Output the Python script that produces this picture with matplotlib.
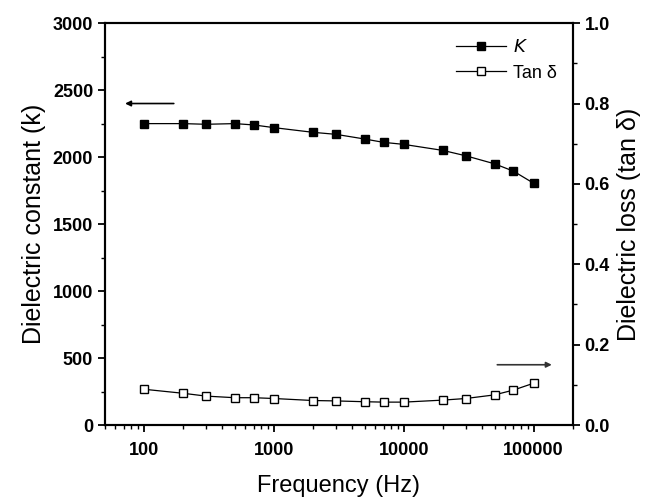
import numpy as np
import matplotlib
matplotlib.use('Agg')
import matplotlib.pyplot as plt
from matplotlib.ticker import FixedLocator, LogLocator, NullFormatter, FuncFormatter

plt.rcParams['font.family'] = ['Liberation Sans', 'DejaVu Sans']

freq = [100, 200, 300, 500, 700, 1000, 2000, 3000, 5000, 7000,
        10000, 20000, 30000, 50000, 70000, 100000]
k_vals = [2250, 2250, 2245, 2250, 2240, 2220, 2185, 2170, 2135, 2110,
          2095, 2050, 2010, 1950, 1895, 1805]
tan_vals = [0.089, 0.079, 0.072, 0.068, 0.068, 0.066, 0.061, 0.060, 0.058, 0.057,
            0.057, 0.062, 0.066, 0.075, 0.087, 0.104]
x_ticks = [100, 1000, 10000, 100000]
k_ticks = [0, 500, 1000, 1500, 2000, 2500, 3000]
tan_ticks = [0.0, 0.2, 0.4, 0.6, 0.8, 1.0]

fig = plt.figure(figsize=(6.46, 5.03), dpi=100)
ax = fig.add_axes([0.1625, 0.155, 0.724, 0.799])
ax2 = ax.twinx()

l1, = ax.plot(freq, k_vals, '-', color='black', lw=0.9, marker='s',
              ms=6, mfc='black', mec='black', label='$K$')
l2, = ax2.plot(freq, tan_vals, '-', color='black', lw=0.9, marker='s',
               ms=6, mfc='white', mec='black', mew=1.0, label='Tan δ')

ax.set_xscale('log')
ax.set_xlim(50, 2e5)
ax.set_ylim(0, 3000)
ax2.set_ylim(0, 1.0)

ax.xaxis.set_major_locator(FixedLocator(x_ticks))
ax.xaxis.set_major_formatter(FuncFormatter(lambda v, p: '%d' % v))
ax.xaxis.set_minor_locator(LogLocator(base=10, subs=np.arange(2, 10)))
ax.xaxis.set_minor_formatter(NullFormatter())
ax.set_yticks(k_ticks)
ax.set_yticks([250, 750, 1250, 1750, 2250, 2750], minor=True)
ax2.set_yticks(tan_ticks)
ax2.set_yticks([0.1, 0.3, 0.5, 0.7, 0.9], minor=True)
ax2.set_yticklabels(['%.1f' % t for t in tan_ticks])

for a in (ax, ax2):
    for s in a.spines.values():
        s.set_linewidth(1.5)
    a.tick_params(which='major', length=5, width=1.3, labelsize=13)
    a.tick_params(which='minor', length=3, width=1.0)
    for lab in a.get_xticklabels() + a.get_yticklabels():
        lab.set_fontweight('bold')
ax.tick_params(axis='y', which='both', right=False)
ax2.tick_params(axis='y', which='both', left=False)
ax.tick_params(axis='x', which='major', pad=7)

ax.set_xlabel('Frequency (Hz)', fontsize=17, labelpad=12)
ax.set_ylabel('Dielectric constant (k)', fontsize=18, labelpad=5)
ax2.set_ylabel('Dielectric loss (tan δ)', fontsize=18, labelpad=5)

# direction arrows
ax.annotate('', xy=(68, 2400), xytext=(178, 2400),
            arrowprops=dict(arrowstyle='-|>', color='black', lw=1.2,
                            mutation_scale=8))
ax2.annotate('', xy=(145000, 0.15), xytext=(50000, 0.15),
             arrowprops=dict(arrowstyle='-|>', color='#333333', lw=1.2,
                             mutation_scale=8))

ax2.legend(handles=[l1, l2], loc='upper right', frameon=False, fontsize=13,
           handlelength=2.8, handletextpad=0.35, borderaxespad=0.5,
           labelspacing=0.45)

fig.savefig('out.png', dpi=100)
